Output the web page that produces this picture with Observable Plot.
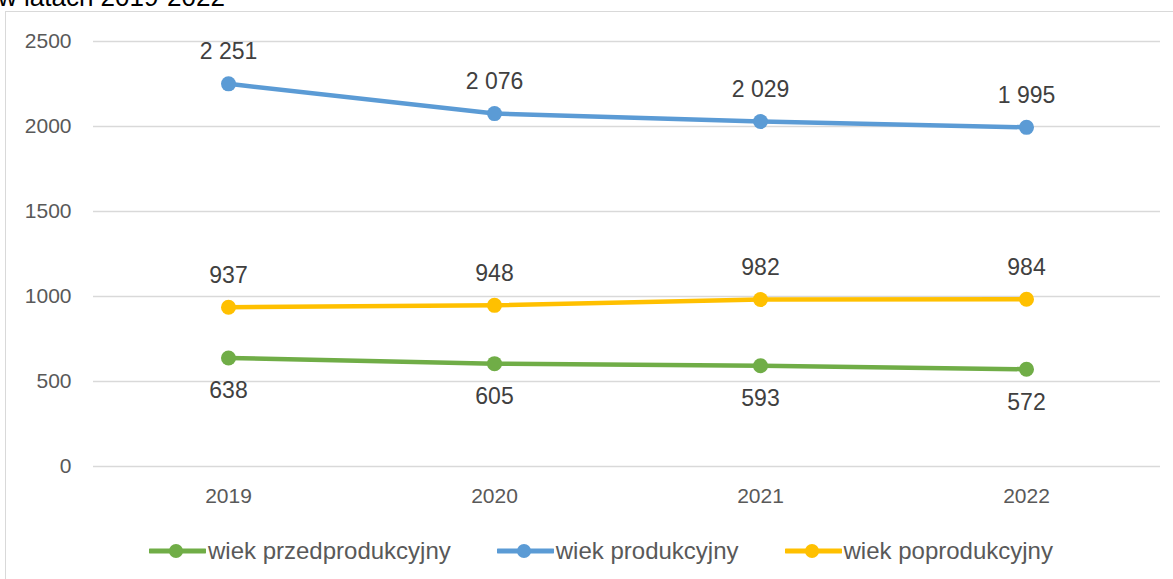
<!DOCTYPE html>
<html>
<head>
<meta charset="utf-8">
<script src="https://cdn.jsdelivr.net/npm/d3@7"></script>
<script src="https://cdn.jsdelivr.net/npm/@observablehq/plot@0.6"></script>
<style>
  html, body { margin: 0; padding: 0; background: #fff; }
  body { width: 1173px; height: 579px; position: relative; overflow: hidden; font-family: "Liberation Sans", Arial, sans-serif; }
  #title { position: absolute; left: -2px; top: -16px; font-size: 26px; line-height: 26px; color: #000; white-space: nowrap; }
  #frame { position: absolute; left: 5px; top: 11px; width: 1200px; height: 600px; border-left: 1px solid #d9d9d9; border-top: 1px solid #d9d9d9; }
  #chart { position: absolute; left: 0; top: 11px; }
  #legend { position: absolute; left: 149px; top: 537px; display: flex; align-items: center; font-size: 24px; color: #595959; }
  .item { display: flex; align-items: center; margin-right: 46px; }
  .item svg { margin-right: 2px; }
</style>
</head>
<body>
<div id="title">w latach 2019-2022</div>
<div id="frame"></div>
<div id="chart"></div>
<div id="legend"></div>
<script>
const years = ["2019", "2020", "2021", "2022"];
const przedprodukcyjny = [638, 605, 593, 572];
const produkcyjny = [2251, 2076, 2029, 1995];
const poprodukcyjny = [937, 948, 982, 984];
const seriesNames = ["wiek przedprodukcyjny", "wiek produkcyjny", "wiek poprodukcyjny"];
const seriesColors = ["#70ad47", "#5b9bd5", "#ffc000"];
const yTicks = [0, 500, 1000, 1500, 2000, 2500];

const seriesValues = [przedprodukcyjny, produkcyjny, poprodukcyjny];
const data = [];
seriesNames.forEach((s, i) => years.forEach((y, j) => data.push({year: y, value: seriesValues[i][j], series: s})));

const fmt = d3.formatLocale({decimal: ",", thousands: " ", grouping: [3], currency: ["", ""]}).format(",");

const above = data.filter(d => d.series !== seriesNames[0]);
const below = data.filter(d => d.series === seriesNames[0]);

const chart = Plot.plot({
  width: 1173,
  height: 515,
  marginTop: 30,
  marginBottom: 60,
  marginLeft: 93,
  marginRight: 13,
  style: {fontFamily: "'Liberation Sans', Arial, sans-serif", fontSize: "21px", color: "#595959", background: "transparent"},
  x: {type: "point", domain: years, padding: 0.5},
  y: {domain: [0, 2500]},
  color: {domain: seriesNames, range: seriesColors},
  marks: [
    Plot.ruleY(yTicks, {stroke: "#d9d9d9", strokeWidth: 1.3}),
    Plot.axisY({ticks: yTicks, tickFormat: d => String(d), tickSize: 0, tickPadding: 22, label: null, fontSize: 21, fill: "#595959"}),
    Plot.axisX({tickSize: 0, tickPadding: 22, label: null, fontSize: 21, fill: "#595959"}),
    Plot.line(data, {x: "year", y: "value", z: "series", stroke: "series", strokeWidth: 4.5, curve: "linear"}),
    Plot.dot(data, {x: "year", y: "value", fill: "series", r: 7.5}),
    Plot.text(above, {x: "year", y: "value", text: d => fmt(d.value), dy: -32, fontSize: 23, fill: "#404040"}),
    Plot.text(below, {x: "year", y: "value", text: d => fmt(d.value), dy: 33, fontSize: 23, fill: "#404040"})
  ]
});
document.getElementById("chart").appendChild(chart);

const legend = document.getElementById("legend");
seriesNames.forEach((name, i) => {
  const item = document.createElement("div");
  item.className = "item";
  item.innerHTML = `<svg width="57" height="18"><line x1="1" y1="9" x2="56" y2="9" stroke="${seriesColors[i]}" stroke-width="5" stroke-linecap="round"/><circle cx="27" cy="9" r="7" fill="${seriesColors[i]}"/></svg><span>${name}</span>`;
  legend.appendChild(item);
});
</script>
</body>
</html>
